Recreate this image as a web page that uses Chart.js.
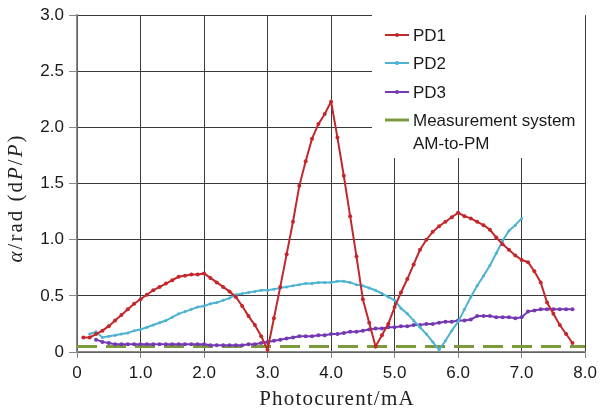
<!DOCTYPE html>
<html>
<head>
<meta charset="utf-8">
<script src="https://cdn.jsdelivr.net/npm/chart.js@4/dist/chart.umd.min.js"></script>
<style>
  html, body { margin: 0; padding: 0; background: #fff; }
  #box { width: 602px; height: 414px; position: relative; }
</style>
</head>
<body>
<div id="box"><canvas id="grafico"></canvas></div>
<script>
// valores
const pd1X = [0.1,0.2,0.3,0.4,0.5,0.6,0.7,0.8,0.9,1.0,1.1,1.2,1.3,1.4,1.5,1.6,1.7,1.8,1.9,2.0,
  2.1,2.2,2.3,2.4,2.5,2.6,2.7,2.8,2.9,3.0,3.1,3.2,3.3,3.4,3.5,3.6,3.7,3.8,3.9,4.0,
  4.1,4.2,4.3,4.4,4.5,4.6,4.7,4.8,4.9,5.0,5.1,5.2,5.3,5.4,5.5,5.6,5.7,5.8,5.9,6.0,
  6.1,6.2,6.3,6.4,6.5,6.6,6.7,6.8,6.9,7.0,7.1,7.2,7.3,7.4,7.5,7.6,7.7,7.8];
const pd1Y = [0.13,0.13,0.16,0.19,0.23,0.28,0.33,0.38,0.43,0.47,0.51,0.55,0.58,0.61,0.64,0.67,0.68,0.69,0.69,0.70,
  0.66,0.62,0.58,0.54,0.49,0.41,0.32,0.24,0.14,0.02,0.30,0.58,0.87,1.16,1.48,1.70,1.90,2.03,2.12,2.23,
  1.91,1.57,1.21,0.85,0.47,0.26,0.05,0.15,0.25,0.40,0.53,0.65,0.78,0.91,1.00,1.07,1.12,1.16,1.20,1.24,
  1.21,1.19,1.16,1.13,1.09,1.02,0.96,0.91,0.86,0.82,0.80,0.72,0.62,0.44,0.34,0.24,0.16,0.08];

const pd2X = [0.2,0.3,0.4,0.5,0.6,0.7,0.8,0.9,1.0,1.1,1.2,1.3,1.4,1.5,1.6,1.7,1.8,1.9,2.0,
  2.1,2.2,2.3,2.4,2.5,2.6,2.7,2.8,2.9,3.0,3.1,3.2,3.3,3.4,3.5,3.6,3.7,3.8,3.9,4.0,
  4.1,4.2,4.3,4.4,4.5,4.6,4.7,4.8,4.9,5.0,5.1,5.2,5.3,5.4,5.5,5.6,5.7,5.8,5.9,6.0,
  6.1,6.2,6.3,6.4,6.5,6.6,6.7,6.8,6.9,7.0];
const pd2Y = [0.16,0.18,0.13,0.14,0.15,0.16,0.17,0.19,0.20,0.22,0.24,0.26,0.28,0.31,0.34,0.36,0.38,0.40,0.41,
  0.43,0.44,0.46,0.48,0.51,0.52,0.53,0.54,0.55,0.55,0.56,0.57,0.58,0.59,0.60,0.61,0.61,0.62,0.62,0.62,
  0.63,0.63,0.62,0.60,0.59,0.57,0.55,0.52,0.49,0.46,0.39,0.34,0.28,0.22,0.16,0.09,0.02,0.10,0.19,0.27,
  0.38,0.49,0.59,0.68,0.77,0.88,0.99,1.08,1.13,1.19];

const pd3X = [0.3,0.4,0.5,0.6,0.7,0.8,0.9,1.0,1.1,1.2,1.3,1.4,1.5,1.6,1.7,1.8,1.9,2.0,
  2.1,2.2,2.3,2.4,2.5,2.6,2.7,2.8,2.9,3.0,3.1,3.2,3.3,3.4,3.5,3.6,3.7,3.8,3.9,4.0,
  4.1,4.2,4.3,4.4,4.5,4.6,4.7,4.8,4.9,5.0,5.1,5.2,5.3,5.4,5.5,5.6,5.7,5.8,5.9,6.0,
  6.1,6.2,6.3,6.4,6.5,6.6,6.7,6.8,6.9,7.0,7.1,7.2,7.3,7.4,7.5,7.6,7.7,7.8];
const pd3Y = [0.11,0.09,0.08,0.07,0.07,0.07,0.07,0.07,0.07,0.07,0.07,0.07,0.07,0.07,0.07,0.07,0.07,0.07,
  0.06,0.06,0.06,0.06,0.06,0.06,0.07,0.07,0.08,0.09,0.10,0.11,0.12,0.13,0.14,0.14,0.14,0.15,0.15,0.16,
  0.16,0.17,0.18,0.18,0.19,0.20,0.21,0.21,0.22,0.22,0.23,0.23,0.24,0.24,0.25,0.25,0.26,0.27,0.27,0.28,
  0.28,0.29,0.32,0.32,0.32,0.31,0.31,0.31,0.30,0.31,0.36,0.37,0.38,0.38,0.38,0.38,0.38,0.38];

const sistemaX = [0, 8];
const sistemaY = [0.05, 0.05];

const nomes = ["PD1", "PD2", "PD3", "Measurement system", "AM-to-PM"];
const cores = ["#c3272b", "#4db3d1", "#7538b4", "#7b9a3c"];

const xTitulo = "Photocurent/mA";

function pontos(xs, ys) {
  return xs.map((x, i) => ({ x: x, y: ys[i] }));
}

function rotulo(v) {
  return v === 0 ? "0" : v.toFixed(1);
}

const serifa = "'Liberation Serif', 'DejaVu Serif', serif";

// legenda desenhada à mão (caixa branca por cima da grade) + títulos dos eixos
const legendaPlugin = {
  id: "legendaBox",
  afterDraw(chart) {
    const ctx = chart.ctx;
    ctx.save();
    ctx.fillStyle = "#fff";
    ctx.fillRect(372, 15, 213, 143);
    ctx.font = "17px 'Liberation Sans', Arial, sans-serif";
    ctx.textBaseline = "middle";
    const ys = [35, 63, 92, 120];
    for (let i = 0; i < 4; i++) {
      ctx.strokeStyle = cores[i];
      ctx.lineWidth = i === 3 ? 3 : 2;
      ctx.beginPath();
      ctx.moveTo(385, ys[i]);
      ctx.lineTo(409, ys[i]);
      ctx.stroke();
      if (i < 3) {
        ctx.fillStyle = cores[i];
        ctx.beginPath();
        ctx.arc(397, ys[i], 2, 0, Math.PI * 2);
        ctx.fill();
      }
      ctx.fillStyle = "#1a1a1a";
      ctx.fillText(nomes[i], 413, ys[i] + 1);
    }
    ctx.fillText(nomes[4], 413, 144);

    // título do eixo x
    ctx.fillStyle = "#222";
    ctx.font = "21px " + serifa;
    ctx.letterSpacing = "1.2px";
    ctx.textAlign = "center";
    ctx.textBaseline = "alphabetic";
    ctx.fillText(xTitulo, 337, 405);

    // título do eixo y com partes em itálico
    const partes = [["α", true], ["/rad (d", false], ["P", true], ["/", false], ["P", true], [")", false]];
    const fonte = it => (it ? "italic " : "") + "21px " + serifa;
    ctx.letterSpacing = "2px";
    let total = 0;
    partes.forEach(p => { ctx.font = fonte(p[1]); total += ctx.measureText(p[0]).width; });
    ctx.translate(22, 198);
    ctx.rotate(-Math.PI / 2);
    ctx.textAlign = "left";
    let px = -total / 2;
    partes.forEach(p => {
      ctx.font = fonte(p[1]);
      ctx.fillText(p[0], px, 0);
      px += ctx.measureText(p[0]).width;
    });
    ctx.restore();
  }
};

const ctx = document.getElementById("grafico").getContext("2d");
new Chart(ctx, {
  type: "line",
  data: {
    datasets: [
      { label: nomes[0], data: pontos(pd1X, pd1Y), borderColor: cores[0], backgroundColor: cores[0],
        borderWidth: 2, pointRadius: 2, pointBorderWidth: 0, tension: 0 },
      { label: nomes[1], data: pontos(pd2X, pd2Y), borderColor: cores[1], backgroundColor: cores[1],
        borderWidth: 2, pointRadius: 1.5, pointBorderWidth: 0, tension: 0 },
      { label: nomes[2], data: pontos(pd3X, pd3Y), borderColor: cores[2], backgroundColor: cores[2],
        borderWidth: 2, pointRadius: 2, pointBorderWidth: 0, tension: 0 },
      { label: nomes[3], data: pontos(sistemaX, sistemaY), borderColor: cores[3],
        borderWidth: 3, borderDash: [20, 9], pointRadius: 0, tension: 0 }
    ]
  },
  options: {
    responsive: true,
    maintainAspectRatio: false,
    animation: false,
    layout: { padding: { top: 12, right: 13, left: 0, bottom: 0 } },
    plugins: { legend: { display: false }, tooltip: { enabled: false } },
    scales: {
      x: {
        type: "linear",
        min: 0, max: 8,
        afterFit: s => { s.height = 62; },
        grid: { color: "#3a3a3a", lineWidth: 1, tickLength: 6, tickColor: "#888" },
        border: { color: "#888", width: 1.5 },
        ticks: { stepSize: 1, padding: 5, color: "#1a1a1a", callback: rotulo,
          font: { family: "'Liberation Sans', Arial, sans-serif", size: 17 } }
      },
      y: {
        min: 0, max: 3,
        afterFit: s => { s.width = 77; },
        grid: { color: "#3a3a3a", lineWidth: 1, tickLength: 8, tickColor: "#888" },
        border: { color: "#888", width: 1.5 },
        ticks: { stepSize: 0.5, padding: 5, color: "#1a1a1a", callback: rotulo,
          font: { family: "'Liberation Sans', Arial, sans-serif", size: 17 } }
      }
    }
  },
  plugins: [legendaPlugin]
});
</script>
</body>
</html>
